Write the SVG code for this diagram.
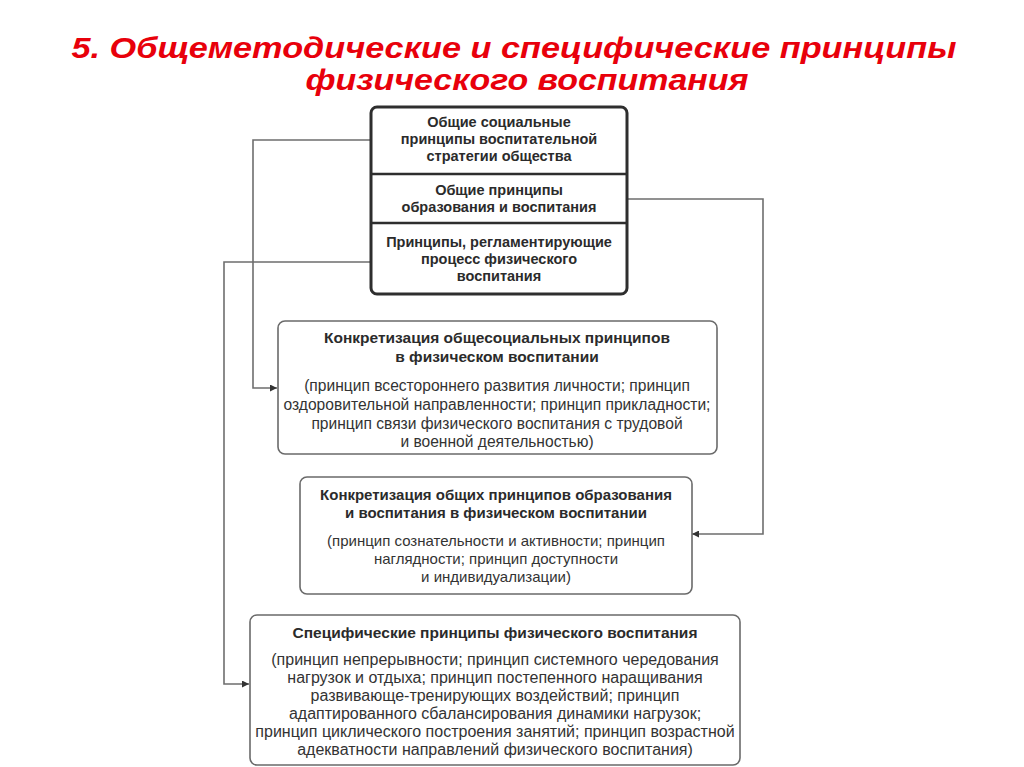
<svg xmlns="http://www.w3.org/2000/svg" width="1024" height="767" viewBox="0 0 1024 767">
<defs>
<marker id="arr" viewBox="0 0 10 10" refX="10" refY="5" markerWidth="10" markerHeight="7" markerUnits="userSpaceOnUse" orient="auto">
<path d="M0,0 L10,5 L0,10 z" fill="#333"/>
</marker>
<style>
.title{font-family:"Liberation Sans Narrow","Liberation Sans",Arial,sans-serif;font-weight:bold;font-style:italic;font-size:29px;fill:#e8000b;text-anchor:middle}
.h{font-family:"Liberation Sans",Arial,sans-serif;font-weight:bold;font-size:14.5px;fill:#2b2b2b;text-anchor:middle}
.b{font-family:"Liberation Sans",Arial,sans-serif;font-size:16px;fill:#333;text-anchor:middle}
.h2{font-size:15.5px}
.h3{font-size:15px}
.b2{font-size:15.6px}
.b3{font-size:15px}
.box{fill:#fff;stroke:#6a6a6a;stroke-width:1.6}
.main{fill:#fff;stroke:#2e2e2e;stroke-width:3}
.div{stroke:#2e2e2e;stroke-width:2.5}
.con{fill:none;stroke:#6e6e6e;stroke-width:1.6}
</style>
</defs>
<rect width="1024" height="767" fill="#fff"/>
<g id="title">
<text class="title" x="514" y="58" textLength="885" lengthAdjust="spacingAndGlyphs">5. Общеметодические и специфические принципы</text>
<text class="title" x="527" y="90" textLength="443" lengthAdjust="spacingAndGlyphs">физического воспитания</text>
</g>
<g id="connectors">
<path class="con" d="M371,140 H253 V388 H277" marker-end="url(#arr)"/>
<path class="con" d="M371,262 H224 V684 H249" marker-end="url(#arr)"/>
<path class="con" d="M627,199 H763 V534 H692" marker-end="url(#arr)"/>
</g>
<g id="top-box">
<rect class="main" x="371" y="107" width="256" height="187" rx="6"/>
<line class="div" x1="371" y1="174" x2="627" y2="174"/>
<line class="div" x1="371" y1="223" x2="627" y2="223"/>
<text class="h" x="499" y="127">Общие социальные</text>
<text class="h" x="499" y="144">принципы воспитательной</text>
<text class="h" x="499" y="161">стратегии общества</text>
<text class="h" x="499" y="195">Общие принципы</text>
<text class="h" x="499" y="212">образования и воспитания</text>
<text class="h" x="499" y="247">Принципы, регламентирующие</text>
<text class="h" x="499" y="264">процесс физического</text>
<text class="h" x="499" y="281">воспитания</text>
</g>
<g id="box-social">
<rect class="box" x="278" y="321" width="439" height="133" rx="7"/>
<text class="h h2" x="497" y="343">Конкретизация общесоциальных принципов</text>
<text class="h h2" x="497" y="362">в физическом воспитании</text>
<text class="b b2" x="497" y="391">(принцип всестороннего развития личности; принцип</text>
<text class="b b2" x="497" y="410">оздоровительной направленности; принцип прикладности;</text>
<text class="b b2" x="497" y="429">принцип связи физического воспитания с трудовой</text>
<text class="b b2" x="497" y="447">и военной деятельностью)</text>
</g>
<g id="box-general">
<rect class="box" x="300" y="477" width="392" height="117" rx="7"/>
<text class="h h3" x="496" y="500">Конкретизация общих принципов образования</text>
<text class="h h3" x="496" y="518">и воспитания в физическом воспитании</text>
<text class="b b3" x="496" y="546">(принцип сознательности и активности; принцип</text>
<text class="b b3" x="496" y="564">наглядности; принцип доступности</text>
<text class="b b3" x="496" y="582">и индивидуализации)</text>
</g>
<g id="box-specific">
<rect class="box" x="250" y="615" width="490" height="150" rx="7"/>
<text class="h h2" x="495" y="638">Специфические принципы физического воспитания</text>
<text class="b" x="495" y="665">(принцип непрерывности; принцип системного чередования</text>
<text class="b" x="495" y="683">нагрузок и отдыха; принцип постепенного наращивания</text>
<text class="b" x="495" y="701">развивающе-тренирующих воздействий; принцип</text>
<text class="b" x="495" y="719">адаптированного сбалансирования динамики нагрузок;</text>
<text class="b" x="495" y="737">принцип циклического построения занятий; принцип возрастной</text>
<text class="b" x="495" y="755">адекватности направлений физического воспитания)</text>
</g>
</svg>
